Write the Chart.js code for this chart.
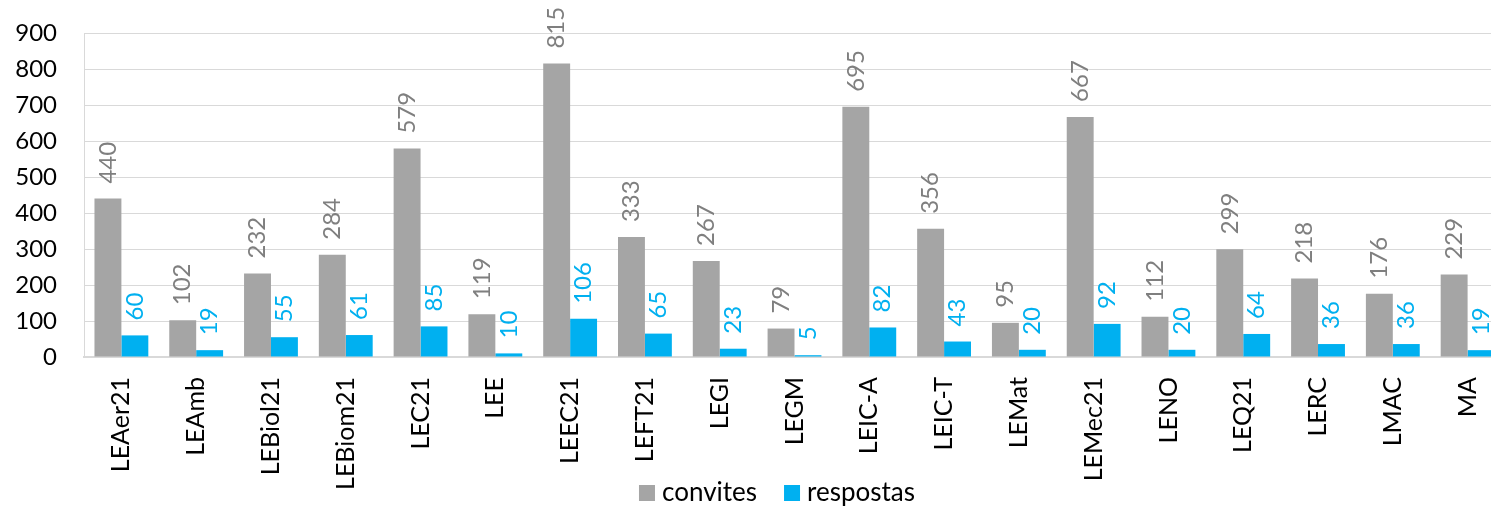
<!DOCTYPE html>
<html lang="pt">
<head>
    <meta charset="UTF-8">
    <title>Convites e respostas</title>
    <script src="https://cdn.jsdelivr.net/npm/chart.js"></script>
    <style>
        body {
            margin: 0;
            background: #fff;
            overflow: hidden;
        }
        .wrap {
            width: 1505px;
            height: 512px;
        }
    </style>
</head>
<body>
    <div class="wrap">
        <canvas id="chart"></canvas>
    </div>
    <script>
        const cursos = ['LEAer21', 'LEAmb', 'LEBiol21', 'LEBiom21', 'LEC21', 'LEE', 'LEEC21', 'LEFT21', 'LEGI', 'LEGM',
            'LEIC-A', 'LEIC-T', 'LEMat', 'LEMec21', 'LENO', 'LEQ21', 'LERC', 'LMAC', 'MA'];
        const convites = [440, 102, 232, 284, 579, 119, 815, 333, 267, 79, 695, 356, 95, 667, 112, 299, 218, 176, 229];
        const respostas = [60, 19, 55, 61, 85, 10, 106, 65, 23, 5, 82, 43, 20, 92, 20, 64, 36, 36, 19];

        const FONT = "Lato, 'Open Sans', sans-serif";

        // valores rodados por cima das barras
        const valueLabels = {
            id: 'valueLabels',
            afterDatasetsDraw(chart) {
                const ctx = chart.ctx;
                ctx.save();
                ctx.font = '24px ' + FONT;
                ctx.textAlign = 'left';
                ctx.textBaseline = 'middle';
                chart.data.datasets.forEach((ds, i) => {
                    const meta = chart.getDatasetMeta(i);
                    ctx.fillStyle = ds.labelColor;
                    meta.data.forEach((bar, j) => {
                        ctx.save();
                        ctx.translate(bar.x, bar.y - 15);
                        ctx.rotate(-Math.PI / 2);
                        ctx.fillText(ds.data[j], 0, 0);
                        ctx.restore();
                    });
                });
                ctx.restore();
            }
        };

        // legenda em baixo, por cima da zona dos rótulos do eixo x
        const bottomLegend = {
            id: 'bottomLegend',
            afterDraw(chart) {
                const ctx = chart.ctx;
                const box = 16, gap = 7, sep = 27, cx = 777, cy = 493;
                ctx.save();
                ctx.font = '26px ' + FONT;
                ctx.textBaseline = 'middle';
                const items = chart.data.datasets.map(ds => ({
                    text: ds.label, color: ds.backgroundColor, w: ctx.measureText(ds.label).width
                }));
                let total = -sep;
                items.forEach(it => { total += box + gap + it.w + sep; });
                let x = cx - total / 2;
                items.forEach(it => {
                    ctx.fillStyle = it.color;
                    ctx.fillRect(x, cy - box / 2, box, box);
                    ctx.fillStyle = '#000';
                    ctx.fillText(it.text, x + box + gap, cy);
                    x += box + gap + it.w + sep;
                });
                ctx.restore();
            }
        };

        new Chart(document.getElementById('chart'), {
            type: 'bar',
            data: {
                labels: cursos,
                datasets: [{
                    label: 'convites',
                    data: convites,
                    backgroundColor: '#a5a5a5',
                    labelColor: '#7f7f7f',
                    categoryPercentage: 0.72,
                    barPercentage: 1.0
                }, {
                    label: 'respostas',
                    data: respostas,
                    backgroundColor: '#00b0f0',
                    labelColor: '#00b0f0',
                    categoryPercentage: 0.72,
                    barPercentage: 1.0
                }]
            },
            options: {
                responsive: true,
                maintainAspectRatio: false,
                animation: false,
                layout: { padding: { top: 33, right: 0, bottom: 0, left: 0 } },
                plugins: {
                    legend: { display: false },
                    tooltip: { enabled: false }
                },
                scales: {
                    x: {
                        grid: { display: false, drawTicks: false },
                        border: { color: '#d9d9d9', width: 2 },
                        ticks: {
                            color: '#000',
                            minRotation: 90,
                            maxRotation: 90,
                            padding: 20,
                            font: { family: FONT, size: 25 }
                        },
                        afterFit(s) {
                            s.height = 155;
                            s.paddingLeft = 0;
                            s.paddingRight = 0;
                        }
                    },
                    y: {
                        min: 0,
                        max: 900,
                        grid: { color: '#d9d9d9', drawTicks: false },
                        border: { color: '#d9d9d9', width: 1 },
                        ticks: {
                            stepSize: 100,
                            color: '#000',
                            padding: 27,
                            font: { family: FONT, size: 24 }
                        },
                        afterFit(s) {
                            s.width = 84;
                            s.paddingTop = 15;
                            s.paddingBottom = 15;
                        }
                    }
                }
            },
            plugins: [valueLabels, bottomLegend]
        });
    </script>
</body>
</html>
